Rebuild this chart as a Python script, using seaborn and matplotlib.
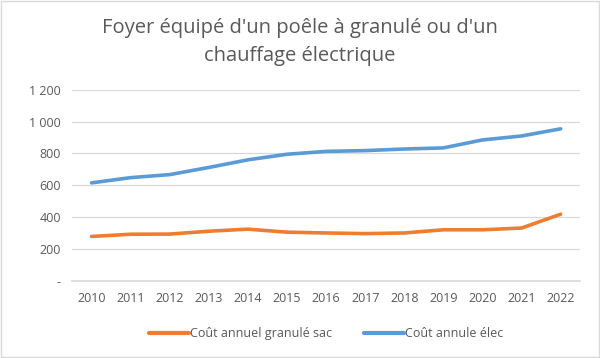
import matplotlib
matplotlib.use('Agg')
import matplotlib.pyplot as plt
import seaborn as sns
import pandas as pd
from matplotlib.patches import Rectangle

# --- Data ---
years = [2010, 2011, 2012, 2013, 2014, 2015, 2016, 2017, 2018, 2019, 2020, 2021, 2022]
cout_granule = [278, 292, 293, 311, 324, 305, 300, 296, 300, 320, 320, 331, 418]
cout_elec = [615, 648, 667, 712, 760, 795, 813, 818, 828, 835, 885, 910, 955]
y_ticks = [0, 200, 400, 600, 800, 1000, 1200]
y_labels = ['-', '200', '400', '600', '800', '1 000', '1 200']

ORANGE = '#ED7D31'
BLUE = '#5B9BD5'
TEXT = '#595959'

sns.set_theme(style='white')
plt.rcParams['font.family'] = ['Open Sans', 'DejaVu Sans']

df = pd.DataFrame({
    'Année': [str(y) for y in years] * 2,
    'Coût': cout_granule + cout_elec,
    'Série': ['Coût annuel granulé sac'] * len(years) + ['Coût annule élec'] * len(years),
})

fig = plt.figure(figsize=(6, 3.58), dpi=100)
ax = fig.add_axes([0.12, 0.216, 0.847, 0.533])

sns.lineplot(data=df, x='Année', y='Coût', hue='Série', sort=False,
             palette={'Coût annuel granulé sac': ORANGE, 'Coût annule élec': BLUE},
             linewidth=2.6, ax=ax)

ax.set_ylim(0, 1200)
ax.set_xlim(-0.5, len(years) - 0.5)
ax.set_yticks(y_ticks)
ax.set_yticklabels(y_labels)
ax.yaxis.grid(True, color='#D9D9D9', linewidth=0.9)
ax.xaxis.grid(False)
for side in ['top', 'right', 'left']:
    ax.spines[side].set_visible(False)
ax.spines['bottom'].set_color('#D9D9D9')
ax.tick_params(axis='both', length=0, labelsize=9, colors=TEXT, pad=8)
ax.set_xlabel('')
ax.set_ylabel('')

leg = ax.legend(loc='upper center', bbox_to_anchor=(0.5, -0.185), ncol=2,
                frameon=False, fontsize=9, handlelength=3.2, handletextpad=0.1,
                columnspacing=2.5)
for t in leg.get_texts():
    t.set_color(TEXT)
for h in leg.get_lines():
    h.set_linewidth(3)

fig.text(0.5, 0.882, "Foyer équipé d'un poêle à granulé ou d'un\nchauffage électrique",
         ha='center', va='center', fontsize=14.5, color=TEXT, linespacing=1.55)

fig.patches.append(Rectangle((0.002, 0.003), 0.996, 0.994, transform=fig.transFigure,
                             fill=False, edgecolor='#D9D9D9', linewidth=1))

fig.savefig('out.png', dpi=100)
